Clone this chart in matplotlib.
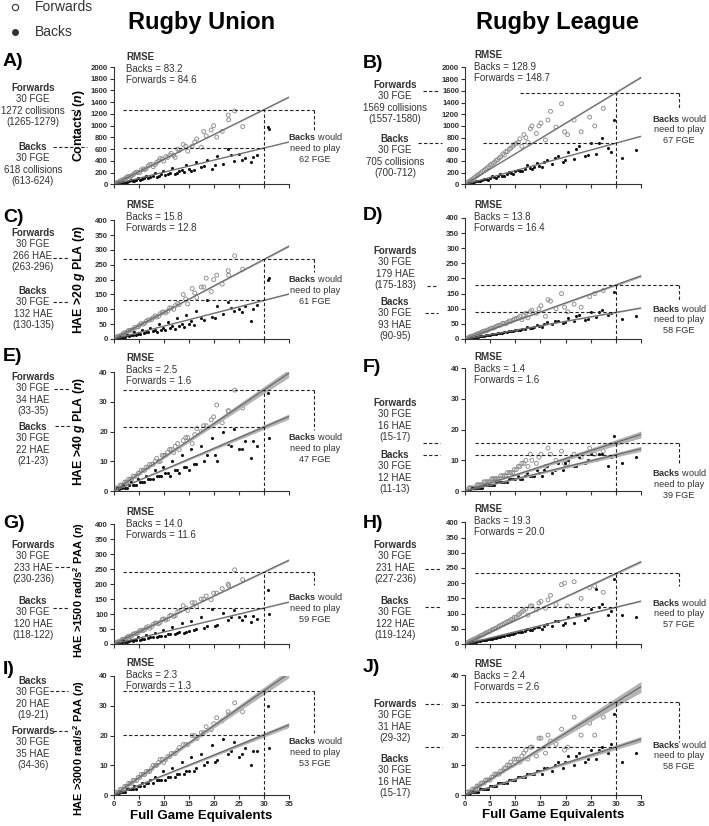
import numpy as np
import matplotlib.pyplot as plt
from matplotlib.lines import Line2D

plt.rcParams['font.family'] = ['Liberation Sans', 'DejaVu Sans']
plt.rcParams['mathtext.fontset'] = 'custom'
plt.rcParams['mathtext.rm'] = 'Liberation Sans'
plt.rcParams['mathtext.bf'] = 'Liberation Sans:bold'
plt.rcParams['mathtext.it'] = 'Liberation Sans:italic:bold'

# ---- data ----
# full game equivalents, shared by all panels of one code
union_fwd_fge = [0.5, 1.0, 1.6, 2.2, 2.7, 3.3, 3.9, 4.6, 5.2, 5.9, 6.5, 7.2, 7.9, 8.6, 9.3, 10.0,
                 10.8, 11.5, 12.3, 13.1, 13.9, 14.8, 15.7, 16.6, 17.5, 18.5, 19.5, 20.6, 21.7, 22.9, 24.2, 25.8,
                 0.8, 1.3, 1.9, 2.5, 3.0, 3.6, 4.2, 4.9, 5.5, 6.2, 6.9, 7.6, 8.3, 9.0, 9.7, 10.4,
                 11.2, 12.0, 12.8, 14.4, 16.2, 18.0, 20.0, 23.0]
union_back_fge = [0.6, 1.2, 1.9, 2.6, 3.4, 4.1, 4.9, 5.7, 6.5, 7.3, 8.2, 9.0, 9.9, 10.8, 11.7, 12.6, 13.6,
                  14.5, 15.5, 16.5, 17.5, 18.6, 19.6, 20.7, 21.8, 22.9, 24.0, 25.1, 26.2, 27.4, 28.6, 30.8, 31.0,
                  1.0, 1.6, 2.3, 3.0, 3.8, 4.5, 5.3, 6.1, 6.9, 7.8, 8.6, 9.5, 10.3, 11.2, 12.2, 13.1,
                  14.0, 15.0, 16.0, 18.0, 20.2, 23.4, 25.6, 27.9]
league_fwd_fge = [0.5, 1.0, 1.5, 2.1, 2.6, 3.2, 3.8, 4.4, 5.0, 5.6, 6.2, 6.8, 7.5, 8.1, 8.8, 9.5,
                  10.2, 10.9, 11.7, 12.5, 13.3, 14.2, 15.1, 16.0, 17.0, 18.1, 19.2, 20.4, 21.7, 23.1, 24.8, 27.5,
                  0.8, 1.2, 1.8, 2.4, 2.9, 3.5, 4.1, 4.7, 5.3, 5.9, 6.5, 7.1, 7.8, 8.4, 9.1, 9.8,
                  10.6, 11.3, 12.1, 13.0, 14.7, 16.5, 19.8, 25.8]
league_back_fge = [0.7, 1.4, 2.1, 2.9, 3.7, 4.5, 5.3, 6.1, 7.0, 7.8, 8.7, 9.6, 10.5, 11.4, 12.4, 13.3, 14.3,
                   15.3, 16.3, 17.3, 18.4, 19.4, 20.5, 21.6, 22.7, 23.8, 25.0, 26.1, 27.3, 28.5, 29.6, 31.2, 34.0,
                   1.0, 1.7, 2.5, 3.3, 4.1, 4.9, 5.7, 6.6, 7.4, 8.3, 9.1, 10.0, 11.0, 11.9, 12.9, 13.8,
                   14.8, 15.8, 17.8, 19.9, 22.1, 24.4, 26.7, 29.0]

# rugby union
contacts_union_fwd = [23, 38, 71, 89, 126, 126, 165, 211, 203, 263, 267, 336, 301, 372, 442, 394,
                      458, 527, 459, 578, 678, 565, 652, 774, 631, 824, 926, 804, 902, 1180, 1250, 984,
                      32, 60, 78, 112, 135, 148, 190, 200, 245, 250, 310, 340, 335, 400, 430, 470,
                      500, 490, 600, 650, 720, 900, 1000, 1100]
contacts_union_back = [15, 22, 45, 40, 80, 62, 110, 95, 150, 120, 200, 140, 230, 170, 280, 190, 250,
                       330, 220, 380, 290, 420, 260, 480, 350, 610, 400, 520, 450, 380, 500, 975, 940,
                       12, 30, 30, 50, 60, 70, 80, 100, 110, 140, 130, 170, 160, 200, 180, 230,
                       210, 260, 240, 320, 330, 500, 420, 470]
hae20_union_fwd = [6, 9, 13, 21, 24, 29, 33, 40, 47, 50, 60, 64, 72, 74, 85, 91,
                   94, 104, 112, 116, 150, 118, 170, 140, 175, 205, 160, 215, 185, 230, 280, 235,
                   8, 11, 18, 20, 29, 30, 39, 41, 52, 53, 64, 66, 78, 77, 90, 88,
                   105, 100, 120, 135, 155, 175, 200, 215]
hae20_union_back = [3, 6, 7, 14, 12, 22, 18, 30, 25, 38, 30, 50, 36, 58, 45, 70, 50,
                    80, 62, 95, 70, 130, 75, 110, 85, 125, 95, 100, 110, 60, 115, 200, 205,
                    3, 5, 8, 10, 12, 15, 16, 20, 22, 26, 25, 32, 30, 38, 35, 45,
                    40, 52, 48, 65, 70, 105, 90, 100]
hae40_union_fwd = [1, 1, 2, 3, 3, 4, 5, 5, 6, 7, 8, 9, 9, 11, 10, 12,
                   13, 14, 15, 14, 17, 18, 16, 21, 20, 22, 24, 29, 23, 27, 34, 28,
                   1, 2, 2, 3, 4, 4, 5, 6, 7, 7, 8, 9, 10, 10, 12, 12,
                   14, 13, 16, 18, 19, 22, 25, 27]
hae40_union_back = [1, 1, 2, 1, 3, 2, 4, 3, 5, 4, 7, 5, 8, 6, 10, 7, 12,
                    8, 14, 9, 15, 12, 18, 10, 20, 16, 21, 14, 17, 11, 15, 33, 18,
                    0, 1, 1, 2, 2, 2, 3, 3, 4, 4, 5, 5, 6, 5, 7, 6,
                    8, 7, 9, 10, 12, 15, 14, 17]
hae1500_union_fwd = [5, 7, 14, 16, 23, 25, 33, 35, 44, 45, 55, 52, 66, 70, 72, 84,
                     83, 96, 95, 110, 128, 112, 138, 125, 150, 160, 148, 170, 185, 200, 248, 215,
                     7, 9, 16, 19, 26, 28, 35, 38, 46, 48, 58, 58, 70, 68, 82, 80,
                     94, 92, 108, 120, 138, 150, 170, 195]
hae1500_union_back = [3, 4, 9, 8, 15, 12, 22, 18, 30, 22, 38, 27, 48, 32, 58, 36, 70,
                      40, 78, 50, 90, 60, 118, 65, 105, 80, 112, 90, 95, 75, 85, 180, 100,
                      2, 5, 6, 9, 11, 13, 15, 18, 20, 22, 25, 28, 28, 32, 35, 40,
                      38, 45, 48, 55, 60, 90, 80, 95]
hae3000_union_fwd = [1, 1, 2, 3, 3, 4, 5, 5, 6, 7, 8, 8, 10, 10, 12, 11,
                     13, 14, 14, 16, 17, 17, 20, 19, 21, 23, 22, 26, 25, 28, 31, 28,
                     1, 2, 2, 3, 4, 4, 5, 6, 7, 7, 8, 9, 10, 11, 12, 12,
                     13, 14, 15, 17, 20, 21, 24, 27]
hae3000_union_back = [0, 1, 1, 2, 2, 3, 3, 4, 4, 5, 6, 5, 8, 6, 9, 7, 11,
                      8, 13, 9, 14, 11, 17, 12, 19, 14, 18, 13, 16, 10, 15, 30, 16,
                      0, 1, 1, 2, 2, 2, 3, 3, 4, 4, 5, 5, 5, 6, 6, 7,
                      7, 8, 8, 10, 11, 15, 14, 15]

# rugby league
contacts_league_fwd = [30, 60, 90, 130, 160, 200, 240, 280, 330, 360, 410, 450, 520, 560, 600, 650,
                       700, 780, 850, 720, 1000, 870, 1050, 760, 1250, 980, 1380, 850, 1100, 900, 1150, 1300,
                       45, 70, 110, 150, 180, 220, 260, 300, 340, 380, 420, 470, 500, 560, 620, 680,
                       720, 650, 800, 950, 1000, 1100, 900, 1000]
contacts_league_back = [18, 30, 55, 60, 95, 80, 140, 110, 170, 150, 210, 180, 240, 220, 330, 260, 370,
                        300, 420, 350, 480, 390, 560, 430, 650, 480, 700, 520, 800, 620, 1100, 450, 590,
                        20, 35, 50, 70, 85, 100, 120, 140, 150, 180, 190, 220, 230, 260, 280, 300,
                        320, 380, 450, 420, 600, 500, 700, 560]
hae20_league_fwd = [3, 7, 10, 14, 18, 22, 26, 28, 34, 36, 42, 45, 52, 50, 60, 62,
                    68, 75, 80, 70, 95, 85, 110, 75, 125, 100, 150, 90, 115, 105, 140, 160,
                    5, 8, 12, 16, 19, 24, 27, 31, 36, 38, 44, 46, 52, 55, 58, 66,
                    70, 64, 85, 90, 100, 130, 105, 150]
hae20_league_back = [2, 4, 6, 9, 10, 13, 15, 18, 20, 22, 25, 28, 30, 33, 40, 35, 45,
                     40, 55, 48, 60, 52, 70, 58, 80, 62, 90, 72, 95, 80, 155, 65, 75,
                     3, 4, 7, 9, 12, 14, 16, 19, 21, 24, 25, 29, 30, 34, 36, 40,
                     42, 50, 60, 55, 75, 65, 90, 85]
hae40_league_fwd = [0, 1, 1, 1, 2, 2, 3, 3, 3, 4, 4, 4, 5, 5, 6, 6,
                    7, 8, 9, 8, 10, 9, 12, 8, 12, 10, 13, 9, 12, 11, 14, 13,
                    1, 1, 1, 2, 2, 2, 3, 3, 4, 4, 4, 5, 5, 6, 6, 7,
                    8, 9, 10, 12, 11, 14, 9, 12]
hae40_league_back = [0, 1, 1, 1, 2, 2, 2, 3, 3, 3, 4, 4, 5, 4, 6, 5, 7,
                     5, 8, 6, 9, 7, 10, 8, 11, 9, 12, 10, 12, 8, 18, 9, 11,
                     0, 1, 1, 1, 2, 2, 2, 3, 3, 3, 4, 4, 4, 5, 5, 5,
                     6, 7, 7, 9, 8, 10, 12, 11]
hae1500_league_fwd = [5, 9, 14, 18, 22, 28, 32, 38, 42, 48, 52, 58, 64, 70, 74, 82,
                      88, 100, 110, 95, 125, 112, 140, 118, 160, 130, 195, 125, 205, 150, 185, 170,
                      7, 10, 15, 20, 25, 30, 36, 40, 46, 50, 56, 62, 68, 74, 80, 88,
                      95, 105, 115, 125, 135, 145, 200, 190]
hae1500_league_back = [2, 5, 7, 10, 12, 15, 18, 20, 24, 26, 30, 32, 38, 40, 48, 45, 55,
                       50, 65, 58, 75, 62, 90, 70, 100, 78, 115, 180, 130, 95, 215, 95, 90,
                       3, 6, 9, 12, 14, 18, 20, 24, 27, 30, 33, 36, 40, 44, 46, 52,
                       55, 60, 75, 70, 100, 85, 120, 110]
hae3000_league_fwd = [1, 1, 2, 2, 3, 4, 4, 5, 5, 6, 7, 7, 8, 9, 10, 10,
                      12, 11, 14, 12, 16, 13, 19, 14, 18, 17, 22, 16, 26, 20, 24, 26,
                      1, 1, 2, 3, 3, 4, 5, 5, 6, 7, 7, 8, 9, 10, 11, 12,
                      12, 13, 15, 16, 19, 20, 15, 20]
hae3000_league_back = [0, 1, 1, 2, 2, 2, 3, 3, 4, 4, 5, 5, 6, 6, 7, 7, 8,
                       7, 9, 8, 11, 9, 13, 10, 14, 11, 15, 12, 16, 14, 27, 11, 14,
                       0, 1, 1, 2, 2, 3, 3, 4, 4, 4, 5, 5, 6, 6, 7, 7,
                       8, 9, 10, 11, 13, 12, 15, 17]

# regression line value at 30 FGE (forwards, backs) and band half-width (fraction)
fit_at_30 = {'A': (1272, 618), 'B': (1569, 705), 'C': (268, 130), 'D': (179, 88),
             'E': (34, 21.5), 'F': (15.8, 11.8), 'G': (240, 120), 'H': (232, 121),
             'I': (35, 20.2), 'J': (31, 16)}
band_frac = {'A': 0.006, 'B': 0.006, 'C': 0.01, 'D': 0.02, 'E': 0.035, 'F': 0.06,
             'G': 0.01, 'H': 0.015, 'I': 0.035, 'J': 0.05}

rmse_text = {'A': ('83.2', '84.6'), 'B': ('128.9', '148.7'), 'C': ('15.8', '12.8'),
             'D': ('13.8', '16.4'), 'E': ('2.5', '1.6'), 'F': ('1.4', '1.6'),
             'G': ('14.0', '11.6'), 'H': ('19.3', '20.0'), 'I': ('2.3', '1.3'), 'J': ('2.4', '2.6')}
upper_block = {'A': ['Forwards', '30 FGE', '1272 collisions', '(1265-1279)'],
               'B': ['Forwards', '30 FGE', '1569 collisions', '(1557-1580)'],
               'C': ['Forwards', '30 FGE', '266 HAE', '(263-296)'],
               'D': ['Forwards', '30 FGE', '179 HAE', '(175-183)'],
               'E': ['Forwards', '30 FGE', '34 HAE', '(33-35)'],
               'F': ['Forwards', '30 FGE', '16 HAE', '(15-17)'],
               'G': ['Forwards', '30 FGE', '233 HAE', '(230-236)'],
               'H': ['Forwards', '30 FGE', '231 HAE', '(227-236)'],
               'I': ['Backs', '30 FGE', '20 HAE', '(19-21)'],
               'J': ['Forwards', '30 FGE', '31 HAE', '(29-32)']}
lower_block = {'A': ['Backs', '30 FGE', '618 collisions', '(613-624)'],
               'B': ['Backs', '30 FGE', '705 collisions', '(700-712)'],
               'C': ['Backs', '30 FGE', '132 HAE', '(130-135)'],
               'D': ['Backs', '30 FGE', '93 HAE', '(90-95)'],
               'E': ['Backs', '30 FGE', '22 HAE', '(21-23)'],
               'F': ['Backs', '30 FGE', '12 HAE', '(11-13)'],
               'G': ['Backs', '30 FGE', '120 HAE', '(118-122)'],
               'H': ['Backs', '30 FGE', '122 HAE', '(119-124)'],
               'I': ['Forwards', '30 FGE', '35 HAE', '(34-36)'],
               'J': ['Backs', '30 FGE', '16 HAE', '(15-17)']}
backs_need_fge = {'A': 62, 'B': 67, 'C': 61, 'D': 58, 'E': 47, 'F': 39, 'G': 59, 'H': 57, 'I': 53, 'J': 58}
y_labels = [r'Contacts ($\mathit{n}$)', r'HAE >20 $\mathit{g}$ PLA ($\mathit{n}$)',
            r'HAE >40 $\mathit{g}$ PLA ($\mathit{n}$)', r'HAE >1500 rad/s$^{\mathbf{2}}$ PAA ($\mathit{n}$)',
            r'HAE >3000 rad/s$^{\mathbf{2}}$ PAA ($\mathit{n}$)']

W, H = 709, 826
fig = plt.figure(figsize=(W / 100, H / 100), dpi=100)
TXT = '#333333'
FS = 7


def fx(x):
    return x / W


def fy(y):
    return 1 - y / H


def fig_dash(x0, x1, y):
    fig.add_artist(Line2D([fx(x0), fx(x1)], [fy(y), fy(y)], transform=fig.transFigure,
                          ls=(0, (3, 2)), lw=0.8, color='#222222'))


# layout in pixels
# (letter, col, top, bottom, ymax, ystep, fwd x, fwd y, back x, back y, ylabel,
#  block1 y, block2 y, dash1, dash2, letter y, rmse y, need y, bracket end, hline start)
panels = [
    ('A', 0, 67, 184.3, 2000, 200, union_fwd_fge, contacts_union_fwd, union_back_fge, contacts_union_back, 0,
     88, 147, (71, 80, 110), (53, 87, 147), 62, 57, 137, 897, (1.8, 1.8)),
    ('C', 0, 220.3, 339, 400, 50, union_fwd_fge, hae20_union_fwd, union_back_fge, hae20_union_back, 1,
     233, 291, (53, 68, 258), (53, 68, 302), 217, 205, 279, 226, (1.8, 1.8)),
    ('E', 0, 372.3, 491, 40, 10, union_fwd_fge, hae40_union_fwd, union_back_fge, hae40_union_back, 2,
     377, 427, (54, 70, 389), (55, 72, 426), 357, 358, 437, 20.5, (1.8, 1.8)),
    ('G', 0, 524.3, 644, 400, 50, union_fwd_fge, hae1500_union_fwd, union_back_fge, hae1500_union_back, 3,
     545, 601, (55, 70, 567), (53, 68, 608), 523, 512, 597, 197, (1.8, 1.8)),
    ('I', 0, 676, 795.3, 40, 10, union_fwd_fge, hae3000_union_fwd, union_back_fge, hae3000_union_back, 4,
     681, 731, (50, 68, 691), (53, 68, 731), 670, 663, 741, 20.9, (1.8, 1.8)),
    ('B', 1, 67.5, 184.3, 2000, 200, league_fwd_fge, contacts_league_fwd, league_back_fge, contacts_league_back, None,
     85, 139, (423, 438, 91), (418, 442, 143), 63, 55, 118, 1301, (11, 3.6)),
    ('D', 1, 218, 339, 400, 50, league_fwd_fge, hae20_league_fwd, league_back_fge, hae20_league_back, None,
     251, 302, (427, 438, 286), (425, 438, 313), 215, 205, 308, 129, (2, 2)),
    ('F', 1, 368.3, 491, 40, 10, league_fwd_fge, hae40_league_fwd, league_back_fge, hae40_league_back, None,
     403, 455, (423, 440, 443), (423, 440, 455), 367, 357, 473, 8.5, (2, 2)),
    ('H', 1, 522.3, 644, 400, 50, league_fwd_fge, hae1500_league_fwd, league_back_fge, hae1500_league_back, None,
     545, 601, (425, 440, 569), (425, 440, 607), 523, 509, 602, 191, (2, 2)),
    ('J', 1, 675.3, 795, 40, 10, league_fwd_fge, hae3000_league_fwd, league_back_fge, hae3000_league_back, None,
     704, 759, (425, 442, 704), (425, 442, 747), 668, 664, 744, 17.8, (2, 2)),
]

col_x = [(113.7, 288.7), (465, 641)]
block_cx = [33, 395]
rmse_x = [126, 474]
need_cx = [315, 679]
letter_x = [3, 363]
bracket_x = [40.1, 42.6]
label_fs = [8.8, 8.8, 8.8, 7.9, 7.9]
label_yc = [0.5, 0.5, 0.5, 0.45, 0.4]
LINE = 11.3

for (key, col, top, bot, ymax, ystep, fwd_x, fwd_y, back_x, back_y, ylab,
     b1, b2, d1, d2, let_y, rm_y, need_y, br_end, hs) in panels:
    x0, x1 = col_x[col]
    ax = fig.add_axes([fx(x0), fy(bot), (x1 - x0) / W, (bot - top) / H])
    f30, b30 = fit_at_30[key]
    bw = band_frac[key]
    xs = np.array([0, 35.0])
    for v in (f30, b30):
        line = v / 30 * xs
        ax.fill_between(xs, line * (1 - bw), line * (1 + bw), color='#b4b4b4', lw=0, zorder=3)
        ax.plot(xs, line, color='#6a6a6a', lw=0.9, zorder=4)
    ax.scatter(fwd_x, fwd_y, s=8, facecolors='none', edgecolors='#8c8c8c', linewidths=0.65, zorder=2)
    ax.scatter(back_x, back_y, s=5, color='#111111', lw=0, zorder=2)

    hi, lo = max(f30, b30), min(f30, b30)
    dash = dict(ls=(0, (3, 2)), lw=0.8, color='#222222', clip_on=False, zorder=5)
    bx = bracket_x[col]
    ax.plot([hs[0], bx], [hi, hi], **dash)
    ax.plot([bx, bx], [hi, br_end], **dash)
    ax.plot([hs[1], 30], [lo, lo], **dash)
    ax.plot([30, 30], [0, hi], **dash)

    ax.set_xlim(0, 35)
    ax.set_ylim(0, ymax)
    ax.set_xticks(np.arange(0, 36, 5))
    ax.set_yticks(np.arange(0, ymax + 1, ystep))
    for s in ('top', 'right'):
        ax.spines[s].set_visible(False)
    for s in ('left', 'bottom'):
        ax.spines[s].set_color('#333333')
        ax.spines[s].set_linewidth(0.8)
    ax.tick_params(direction='out', length=3, width=0.8, colors='#333333', labelsize=5.6, pad=1.2)
    ax.set_yticklabels([str(int(t)) for t in np.arange(0, ymax + 1, ystep)], fontweight='bold')
    if key in ('I', 'J'):
        ax.set_xticklabels([str(t) for t in range(0, 36, 5)], fontweight='bold')
        ax.set_xlabel('Full Game Equivalents', fontsize=9.5, fontweight='bold', labelpad=1)
    else:
        ax.set_xticklabels([])
    if ylab is not None:
        ax.set_ylabel(y_labels[ylab], fontsize=label_fs[ylab], fontweight='bold')
        ax.yaxis.set_label_coords(-0.155, label_yc[ylab])

    # panel letter
    fig.text(fx(letter_x[col]), fy(let_y), key + ')', fontsize=14, fontweight='bold',
             ha='left', va='center')
    # rmse
    fig.text(fx(rmse_x[col]), fy(rm_y), 'RMSE', fontsize=FS, fontweight='bold', color=TXT,
             ha='left', va='center')
    fig.text(fx(rmse_x[col]), fy(rm_y + 12), 'Backs = ' + rmse_text[key][0], fontsize=FS, color=TXT,
             ha='left', va='center')
    fig.text(fx(rmse_x[col]), fy(rm_y + 23), 'Forwards = ' + rmse_text[key][1], fontsize=FS, color=TXT,
             ha='left', va='center')
    # left blocks
    for blk, y0 in ((upper_block[key], b1), (lower_block[key], b2)):
        for i, s in enumerate(blk):
            fig.text(fx(block_cx[col]), fy(y0 + i * LINE), s, fontsize=FS, color=TXT,
                     fontweight='bold' if i == 0 else 'normal', ha='center', va='center')
    fig_dash(*d1)
    fig_dash(*d2)
    # backs would need to play
    need_lines = [r'$\mathbf{Backs}$ would', 'need to play', '%d FGE' % backs_need_fge[key]]
    for i, s in enumerate(need_lines):
        fig.text(fx(need_cx[col]), fy(need_y + i * LINE), s, fontsize=6.6, color=TXT,
                 ha='center', va='center')

# titles and key
fig.text(fx(202), fy(23), 'Rugby Union', fontsize=17, fontweight='bold', ha='center', va='center')
fig.text(fx(557), fy(23), 'Rugby League', fontsize=17, fontweight='bold', ha='center', va='center')
fig.add_artist(Line2D([fx(15)], [fy(7)], marker='o', ms=4.5, mfc='none', mec='#333333', mew=0.8,
                      transform=fig.transFigure))
fig.add_artist(Line2D([fx(15)], [fy(32)], marker='o', ms=4, mfc='#333333', mec='#333333',
                      transform=fig.transFigure))
fig.text(fx(35), fy(7), 'Forwards', fontsize=10, color=TXT, ha='left', va='center')
fig.text(fx(35), fy(32), 'Backs', fontsize=10, color=TXT, ha='left', va='center')

fig.savefig('out.png', dpi=100)
